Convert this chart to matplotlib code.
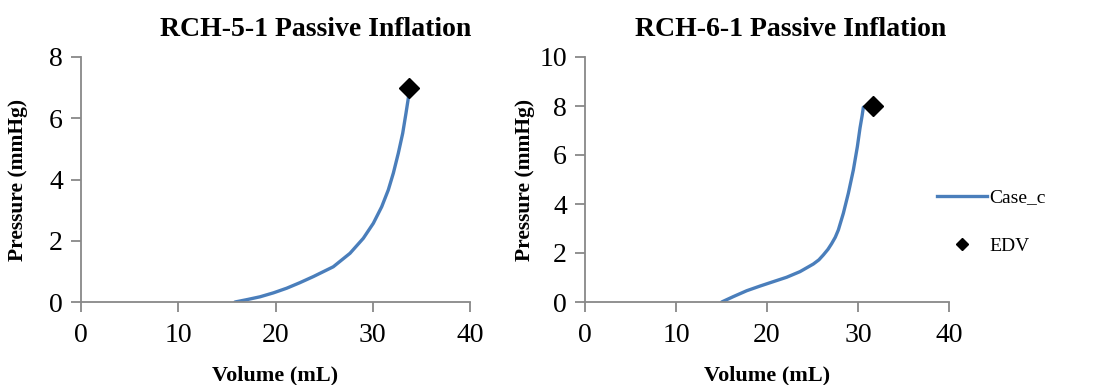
"""Passive inflation pressure-volume curves for RCH-5-1 and RCH-6-1"""

import matplotlib

matplotlib.use("Agg")
import matplotlib.pyplot as plt
from matplotlib.lines import Line2D

plt.rcParams["font.family"] = ["Liberation Serif", "DejaVu Serif"]

# RCH-5-1 (Case_c)
vol_5 = [15.84, 17.1, 18.41, 19.8, 21.15, 22.5, 23.89, 25.94, 27.66, 29.03, 30.06, 30.92,
         31.6, 32.12, 32.63, 33.08, 33.42, 33.66, 33.72]
p_5 = [0.0, 0.08, 0.17, 0.3, 0.45, 0.63, 0.83, 1.15, 1.59, 2.08, 2.57, 3.11,
       3.66, 4.21, 4.86, 5.51, 6.17, 6.66, 6.85]
edv_5 = (33.7, 7.0)

# RCH-6-1 (Case_c)
vol_6 = [15.02, 16.3, 17.77, 19.23, 20.69, 22.16, 23.63, 25.09, 25.7, 26.19,
         26.7, 27.1, 27.5, 27.84, 28.39, 28.94, 29.49, 29.93, 30.22, 30.45, 30.59]
p_6 = [0.0, 0.22, 0.46, 0.65, 0.83, 1.01, 1.24, 1.55, 1.72, 1.92,
       2.15, 2.38, 2.64, 2.94, 3.62, 4.44, 5.39, 6.34, 7.1, 7.6, 7.95]
edv_6 = (31.6, 8.0)

titles = ["RCH-5-1 Passive Inflation", "RCH-6-1 Passive Inflation"]
y_max = [8, 10]
x_ticks = [0, 10, 20, 30, 40]

LINE_COLOR = "#4A7EBB"
AXIS_COLOR = "#888888"
W, H = 1115, 385


def style_axis(ax, ymax):
    ax.set_xlim(0, 40)
    ax.set_ylim(0, ymax)
    ax.set_xticks(x_ticks)
    ax.set_yticks(range(0, ymax + 1, 2))
    for side in ("top", "right"):
        ax.spines[side].set_visible(False)
    for side in ("left", "bottom"):
        ax.spines[side].set_color(AXIS_COLOR)
        ax.spines[side].set_linewidth(1.3)
    ax.tick_params(direction="out", length=7, width=1.3, color=AXIS_COLOR,
                   labelsize=20)
    ax.tick_params(axis="x", pad=8)
    ax.tick_params(axis="y", pad=6)
    ax.set_xlabel("Volume (mL)", fontsize=16, fontweight="bold")
    ax.set_ylabel("Pressure (mmHg)", fontsize=15.5, fontweight="bold")
    ax.xaxis.set_label_coords(0.5, -0.26)


def draw_panel(ax, vol, p, edv, title, ymax, title_x):
    ax.plot(vol, p, color=LINE_COLOR, lw=2.4, solid_capstyle="round")
    ax.plot([edv[0]], [edv[1]], "D", color="black", markersize=10, clip_on=False)
    style_axis(ax, ymax)
    ax.set_title(title, fontsize=20, fontweight="bold", x=title_x, pad=15)


fig = plt.figure(figsize=(W / 100, H / 100), dpi=100)
ax1 = fig.add_axes([81 / W, 1 - 302 / H, 389 / W, 245 / H])
ax2 = fig.add_axes([585 / W, 1 - 302 / H, 364 / W, 245 / H])

draw_panel(ax1, vol_5, p_5, edv_5, titles[0], y_max[0], 0.604)
draw_panel(ax2, vol_6, p_6, edv_6, titles[1], y_max[1], 0.566)
ax1.yaxis.set_label_coords(-0.136, 0.5)
ax2.yaxis.set_label_coords(-0.137, 0.5)

handles = [
    Line2D([], [], color=LINE_COLOR, lw=2.4),
    Line2D([], [], ls="none", marker="D", color="black", markersize=6),
]
fig.legend(handles, ["Case_c", "EDV"], loc="center left",
           bbox_to_anchor=(919 / W, 1 - 222 / H), frameon=False, fontsize=14,
           handlelength=2.6, handletextpad=0.1, labelspacing=1.6)

fig.savefig("out.png", dpi=100)
